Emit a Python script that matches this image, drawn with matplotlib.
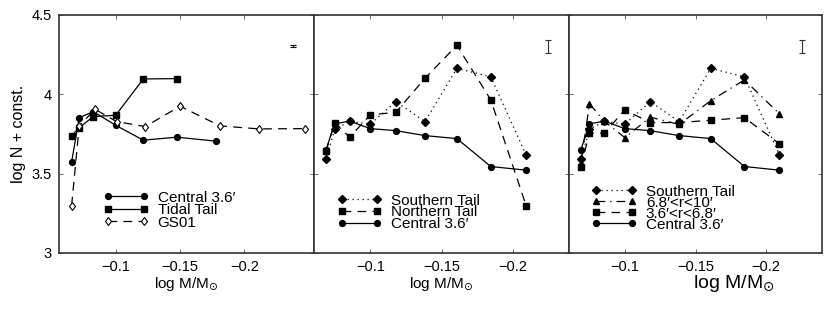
import matplotlib
matplotlib.use("Agg")
import matplotlib.pyplot as plt
from matplotlib.ticker import FixedLocator, FixedFormatter

plt.rcParams['font.family'] = ['Liberation Sans', 'DejaVu Sans']
plt.rcParams['axes.unicode_minus'] = True

# ---------------- data ----------------
# Panel 1
p1_x_central = [-0.0658, -0.0717, -0.0826, -0.1000, -0.1215, -0.1474, -0.1778]
p1_central = [3.574, 3.853, 3.891, 3.805, 3.711, 3.730, 3.705]
p1_x_tidal = [-0.0658, -0.0717, -0.0826, -0.1000, -0.1215, -0.1474]
p1_tidal = [3.738, 3.790, 3.860, 3.868, 4.097, 4.099]
p1_x_gs01 = [-0.0658, -0.0717, -0.0839, -0.1008, -0.1230, -0.1500, -0.1811, -0.2114, -0.2467]
p1_gs01 = [3.299, 3.801, 3.906, 3.828, 3.797, 3.925, 3.801, 3.782, 3.784]
p1_err = dict(x=-0.238, y=4.305, e=0.006)

# Panels 2 and 3
x_bins = [-0.0689, -0.0750, -0.0855, -0.1000, -0.1180, -0.1384, -0.1608, -0.1846, -0.2094]
central = [3.650, 3.814, 3.831, 3.784, 3.771, 3.740, 3.721, 3.545, 3.522]
southern = [3.591, 3.780, 3.830, 3.812, 3.954, 3.828, 4.164, 4.110, 3.618]
northern = [3.640, 3.822, 3.730, 3.870, 3.887, 4.101, 4.309, 3.965, 3.299]
r68_10 = [3.570, 3.940, 3.831, 3.727, 3.856, 3.810, 3.960, 4.091, 3.877]
r36_68 = [3.545, 3.755, 3.755, 3.902, 3.822, 3.822, 3.837, 3.853, 3.688]
p23_err = dict(x=-0.225, y=4.300, e=0.042)

x_ticks = [-0.1, -0.15, -0.2]
x_ticklabels = ['\u22120.1', '\u22120.15', '\u22120.2']
y_ticks = [3, 3.5, 4, 4.5]
y_ticklabels = ['3', '3.5', '4', '4.5']

# ---------------- figure ----------------
W, H = 830, 309
fig = plt.figure(figsize=(W / 100, H / 100), dpi=100)

def frac(l, r, t=15, b=253):
    return [l / W, 1 - b / H, (r - l) / W, (b - t) / H]

ax1 = fig.add_axes(frac(59, 314))
ax2 = fig.add_axes(frac(314, 569))
ax3 = fig.add_axes(frac(569, 822))

DOT = (0, (1, 3))
DASH = (0, (7, 5))
DASHDOT = (0, (7, 4, 1, 4))
lw = 0.9
ms = 4.2
LEG = dict(frameon=False, fontsize=11, handlelength=2.95, handletextpad=0.6,
           numpoints=2, borderaxespad=0, borderpad=0, loc='lower left')

for ax in (ax1, ax2, ax3):
    ax.set_ylim(3, 4.5)
    ax.yaxis.set_major_locator(FixedLocator(y_ticks))
    ax.xaxis.set_major_locator(FixedLocator(x_ticks))
    ax.xaxis.set_major_formatter(FixedFormatter(x_ticklabels))
    ax.tick_params(direction='in', length=3, width=0.6, top=True, right=True,
                   labelsize=10.5, pad=5, color='#555555')
    for s in ax.spines.values():
        s.set_linewidth(1.2)
        s.set_color('#333333')

ax1.set_xlim(-0.056, -0.254)
ax2.set_xlim(-0.0605, -0.2395)
ax3.set_xlim(-0.0605, -0.2395)
ax1.yaxis.set_major_formatter(FixedFormatter(y_ticklabels))
ax2.tick_params(labelleft=False)
ax3.tick_params(labelleft=False)

# Panel 1
ax1.plot(p1_x_central, p1_central, '-', color='k', lw=lw, marker='o', ms=ms, label='Central 3.6\u2032')
ax1.plot(p1_x_tidal, p1_tidal, '-', color='k', lw=lw, marker='s', ms=ms, label='Tidal Tail')
ax1.plot(p1_x_gs01, p1_gs01, linestyle=DASH, color='k', lw=lw, marker='d', ms=ms + 0.3,
         mfc='white', mew=0.8, label='GS01')
ax1.errorbar([p1_err['x']], [p1_err['y']], yerr=[p1_err['e']], fmt='none', ecolor='k',
             elinewidth=0.8, capsize=2, capthick=0.8)
ax1.set_ylabel('log N + const.', fontsize=11.5, labelpad=4)
ax1.set_xlabel('log M/M$_\u2299$', fontsize=11, labelpad=1)
ax1.legend(bbox_to_anchor=(0.174, 0.098), labelspacing=-0.1, **LEG)

# Panel 2
ax2.plot(x_bins, southern, linestyle=DOT, color='k', lw=lw, marker='D', ms=ms - 0.5, label='Southern Tail')
ax2.plot(x_bins, northern, linestyle=DASH, color='k', lw=lw, marker='s', ms=ms, label='Northern Tail')
ax2.plot(x_bins, central, '-', color='k', lw=lw, marker='o', ms=ms, label='Central 3.6\u2032')
ax2.errorbar([p23_err['x']], [p23_err['y']], yerr=[p23_err['e']], fmt='none', ecolor='#333333',
             elinewidth=0.8, capsize=2.5, capthick=0.8)
ax2.set_xlabel('log M/M$_\u2299$', fontsize=11, labelpad=1)
ax2.legend(bbox_to_anchor=(0.09, 0.092), labelspacing=-0.15, **LEG)

# Panel 3
ax3.plot(x_bins, southern, linestyle=DOT, color='k', lw=lw, marker='D', ms=ms - 0.5, label='Southern Tail')
ax3.plot(x_bins, r68_10, linestyle=DASHDOT, color='k', lw=lw, marker='^', ms=ms, label='6.8\u2032<r<10\u2032')
ax3.plot(x_bins, r36_68, linestyle=DASH, color='k', lw=lw, marker='s', ms=ms, label='3.6\u2032<r<6.8\u2032')
ax3.plot(x_bins, central, '-', color='k', lw=lw, marker='o', ms=ms, label='Central 3.6\u2032')
ax3.errorbar([p23_err['x']], [p23_err['y']], yerr=[p23_err['e']], fmt='none', ecolor='#333333',
             elinewidth=0.8, capsize=2.5, capthick=0.8)
ax3.set_xlabel('log M/M$_\u2299$', fontsize=14, labelpad=0)
ax3.xaxis.set_label_coords(0.65, -0.085, transform=ax3.transAxes)
ax3.xaxis.label.set_va('top')
ax3.legend(bbox_to_anchor=(0.089, 0.09), labelspacing=-0.2, **LEG)

fig.savefig('out.png', dpi=100)
